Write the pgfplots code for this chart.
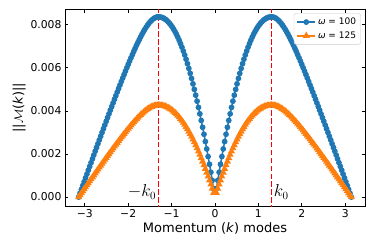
\documentclass[border=0pt]{standalone}
\usepackage[no-math]{fontspec}
\setmainfont{DejaVu Sans}
\usepackage{pgfplots}
\usepackage{pgfplotstable}
\pgfplotsset{compat=1.18}
\definecolor{mplblue}{HTML}{1F77B4}
\definecolor{mplorange}{HTML}{FF7F0E}
\pgfplotstableread{
k b o
-3.1416 0.000000 0.000000
-3.1099 0.000177 0.000093
-3.0781 0.000356 0.000186
-3.0464 0.000534 0.000278
-3.0147 0.000711 0.000371
-2.9829 0.000889 0.000463
-2.9512 0.001066 0.000555
-2.9195 0.001243 0.000647
-2.8877 0.001421 0.000739
-2.8560 0.001597 0.000831
-2.8243 0.001773 0.000922
-2.7925 0.001950 0.001014
-2.7608 0.002125 0.001105
-2.7291 0.002301 0.001195
-2.6973 0.002476 0.001286
-2.6656 0.002650 0.001377
-2.6339 0.002825 0.001467
-2.6021 0.002999 0.001557
-2.5704 0.003172 0.001647
-2.5387 0.003345 0.001736
-2.5069 0.003518 0.001825
-2.4752 0.003689 0.001914
-2.4435 0.003860 0.002002
-2.4117 0.004031 0.002090
-2.3800 0.004201 0.002178
-2.3483 0.004370 0.002265
-2.3165 0.004539 0.002351
-2.2848 0.004706 0.002437
-2.2531 0.004873 0.002523
-2.2213 0.005039 0.002608
-2.1896 0.005203 0.002692
-2.1579 0.005366 0.002775
-2.1261 0.005529 0.002858
-2.0944 0.005689 0.002940
-2.0627 0.005848 0.003021
-2.0309 0.006006 0.003101
-1.9992 0.006161 0.003180
-1.9675 0.006314 0.003257
-1.9357 0.006466 0.003334
-1.9040 0.006614 0.003409
-1.8723 0.006760 0.003482
-1.8405 0.006903 0.003554
-1.8088 0.007043 0.003623
-1.7771 0.007178 0.003691
-1.7453 0.007310 0.003756
-1.7136 0.007437 0.003819
-1.6819 0.007558 0.003878
-1.6501 0.007674 0.003935
-1.6184 0.007784 0.003989
-1.5867 0.007886 0.004038
-1.5549 0.007981 0.004084
-1.5232 0.008067 0.004126
-1.4915 0.008144 0.004163
-1.4597 0.008211 0.004195
-1.4280 0.008267 0.004221
-1.3963 0.008311 0.004242
-1.3645 0.008343 0.004257
-1.3328 0.008363 0.004267
-1.3011 0.008369 0.004269
-1.2693 0.008364 0.004266
-1.2376 0.008351 0.004259
-1.2059 0.008328 0.004248
-1.1741 0.008294 0.004230
-1.1424 0.008253 0.004209
-1.1107 0.008201 0.004183
-1.0789 0.008139 0.004151
-1.0472 0.008067 0.004115
-1.0155 0.007987 0.004074
-0.9837 0.007895 0.004027
-0.9520 0.007791 0.003974
-0.9203 0.007679 0.003917
-0.8885 0.007555 0.003853
-0.8568 0.007421 0.003785
-0.8251 0.007277 0.003712
-0.7933 0.007122 0.003633
-0.7616 0.006957 0.003548
-0.7299 0.006783 0.003460
-0.6981 0.006596 0.003364
-0.6664 0.006399 0.003264
-0.6347 0.006192 0.003158
-0.6029 0.005974 0.003047
-0.5712 0.005745 0.002930
-0.5395 0.005507 0.002809
-0.5077 0.005258 0.002682
-0.4760 0.005000 0.002550
-0.4443 0.004731 0.002413
-0.4125 0.004452 0.002271
-0.3808 0.004164 0.002124
-0.3491 0.003865 0.001971
-0.3173 0.003558 0.001815
-0.2856 0.003240 0.001653
-0.2539 0.002915 0.001487
-0.2221 0.002579 0.001315
-0.1904 0.002235 0.001140
-0.1587 0.001883 0.000960
-0.1269 0.001521 0.000776
-0.0952 0.001153 0.000588
-0.0635 0.000776 0.000396
-0.0317 0.000391 0.000199
0.0317 0.000391 0.000199
0.0635 0.000776 0.000396
0.0952 0.001153 0.000588
0.1269 0.001521 0.000776
0.1587 0.001883 0.000960
0.1904 0.002235 0.001140
0.2221 0.002579 0.001315
0.2539 0.002915 0.001487
0.2856 0.003240 0.001653
0.3173 0.003558 0.001815
0.3491 0.003865 0.001971
0.3808 0.004164 0.002124
0.4125 0.004452 0.002271
0.4443 0.004731 0.002413
0.4760 0.005000 0.002550
0.5077 0.005258 0.002682
0.5395 0.005507 0.002809
0.5712 0.005745 0.002930
0.6029 0.005974 0.003047
0.6347 0.006192 0.003158
0.6664 0.006399 0.003264
0.6981 0.006596 0.003364
0.7299 0.006783 0.003460
0.7616 0.006957 0.003548
0.7933 0.007122 0.003633
0.8251 0.007277 0.003712
0.8568 0.007421 0.003785
0.8885 0.007555 0.003853
0.9203 0.007679 0.003917
0.9520 0.007791 0.003974
0.9837 0.007895 0.004027
1.0155 0.007987 0.004074
1.0472 0.008067 0.004115
1.0789 0.008139 0.004151
1.1107 0.008201 0.004183
1.1424 0.008253 0.004209
1.1741 0.008294 0.004230
1.2059 0.008328 0.004248
1.2376 0.008351 0.004259
1.2693 0.008364 0.004266
1.3011 0.008369 0.004269
1.3328 0.008363 0.004267
1.3645 0.008343 0.004257
1.3963 0.008311 0.004242
1.4280 0.008267 0.004221
1.4597 0.008211 0.004195
1.4915 0.008144 0.004163
1.5232 0.008067 0.004126
1.5549 0.007981 0.004084
1.5867 0.007886 0.004038
1.6184 0.007784 0.003989
1.6501 0.007674 0.003935
1.6819 0.007558 0.003878
1.7136 0.007437 0.003819
1.7453 0.007310 0.003756
1.7771 0.007178 0.003691
1.8088 0.007043 0.003623
1.8405 0.006903 0.003554
1.8723 0.006760 0.003482
1.9040 0.006614 0.003409
1.9357 0.006466 0.003334
1.9675 0.006314 0.003257
1.9992 0.006161 0.003180
2.0309 0.006006 0.003101
2.0627 0.005848 0.003021
2.0944 0.005689 0.002940
2.1261 0.005529 0.002858
2.1579 0.005366 0.002775
2.1896 0.005203 0.002692
2.2213 0.005039 0.002608
2.2531 0.004873 0.002523
2.2848 0.004706 0.002437
2.3165 0.004539 0.002351
2.3483 0.004370 0.002265
2.3800 0.004201 0.002178
2.4117 0.004031 0.002090
2.4435 0.003860 0.002002
2.4752 0.003689 0.001914
2.5069 0.003518 0.001825
2.5387 0.003345 0.001736
2.5704 0.003172 0.001647
2.6021 0.002999 0.001557
2.6339 0.002825 0.001467
2.6656 0.002650 0.001377
2.6973 0.002476 0.001286
2.7291 0.002301 0.001195
2.7608 0.002125 0.001105
2.7925 0.001950 0.001014
2.8243 0.001773 0.000922
2.8560 0.001597 0.000831
2.8877 0.001421 0.000739
2.9195 0.001243 0.000647
2.9512 0.001066 0.000555
2.9829 0.000889 0.000463
3.0147 0.000711 0.000371
3.0464 0.000534 0.000278
3.0781 0.000356 0.000186
3.1099 0.000177 0.000093
3.1416 0.000000 0.000000
}\data
\pgfplotstableread{
x y
-1.31 -0.001
-1.31 0.010
}\lineL
\pgfplotstableread{
x y
1.31 -0.001
1.31 0.010
}\lineR
\begin{document}
\begin{tikzpicture}
\useasboundingbox (-65pt,-43pt) rectangle (309pt,206pt);
\begin{axis}[
  at={(0,0)}, anchor=south west,
  width=300pt, height=196.7pt, scale only axis,
  xmin=-3.456, xmax=3.456,
  ymin=-0.000415, ymax=0.00872,
  axis line style={line width=0.8pt},
  tick align=inside, xtick pos=both, ytick pos=both,
  xticklabel pos=bottom, yticklabel pos=left,
  major tick length=3.5pt,
  every tick/.style={black, line width=0.8pt},
  xtick={-3,-2,-1,0,1,2,3},
  xticklabels={−3,−2,−1,0,1,2,3},
  ytick={0,0.002,0.004,0.006,0.008},
  yticklabels={0.000,0.002,0.004,0.006,0.008},
  scaled y ticks=false,
  tick label style={font=\fontsize{10.8}{12}\selectfont},
  xlabel={Momentum (\textit{k}) modes},
  ylabel={||\(\mathcal{M}\)(\textit{k})||},
  label style={font=\fontsize{13}{15}\selectfont},
  xlabel style={yshift=2pt},
  ylabel style={yshift=-2pt},
  legend style={at={(1,1)}, xshift=-4.3pt, yshift=-4pt, anchor=north east,
    draw=black!20, rounded corners=2pt, fill=white, fill opacity=0.8, text opacity=1,
    font=\fontsize{9}{10}\selectfont, inner sep=2.5pt, row sep=1.5pt},
  legend cell align=left,
  legend image code/.code={\draw[mark repeat=2,mark phase=2] plot coordinates {(0pt,0pt) (9pt,0pt) (18pt,0pt)};},
]
\addplot[mplblue, line width=1.5pt, mark=*, mark size=2.1pt, mark options={solid, fill=mplblue, draw=mplblue}] table[x=k, y=b] {\data};
\addlegendentry{\textit{ω} = 100}
\addplot[mplorange, line width=1.5pt, mark=triangle*, mark size=2.6pt, mark options={solid, fill=mplorange, draw=mplorange}] table[x=k, y=o] {\data};
\addlegendentry{\textit{ω} = 125}
\addplot[red, line width=1pt, dash pattern=on 5.5pt off 2.4pt, forget plot] table[x=x, y=y] {\lineL};
\addplot[red, line width=1pt, dash pattern=on 5.5pt off 2.4pt, forget plot] table[x=x, y=y] {\lineR};
\node[anchor=base east, font=\fontsize{16}{16}\selectfont, inner sep=1pt] at (axis cs:-1.33,0.00002) {$-k_0$};
\node[anchor=base west, font=\fontsize{16}{16}\selectfont, inner sep=1pt] at (axis cs:1.33,0.00002) {$k_0$};
\end{axis}
\end{tikzpicture}
\end{document}
